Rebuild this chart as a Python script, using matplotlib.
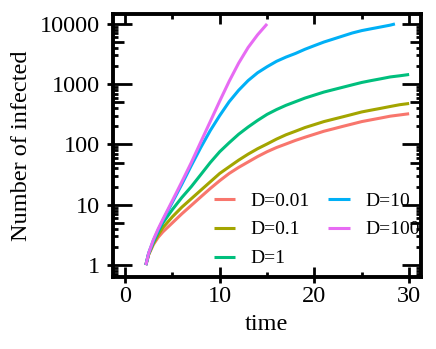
import matplotlib
matplotlib.use('Agg')
import matplotlib.pyplot as plt
from matplotlib.ticker import FixedLocator, NullLocator, NullFormatter, FixedFormatter

# ---- data ----
t_d001 = [2.2, 2.5, 3, 3.5, 4, 5, 6, 7, 8, 9, 10, 11, 12, 13, 14, 15, 16, 17, 18, 19, 20,
          21, 22, 23, 24, 25, 26, 27, 28, 29, 30]
v_d001 = [1, 1.48, 2.19, 2.88, 3.55, 5.01, 7.08, 9.77, 13.5, 18.6, 25.1, 33.1, 41.7, 51.3,
          63.1, 75.9, 89.1, 102, 117, 132, 148, 166, 182, 200, 219, 240, 257, 275, 295, 309, 324]

t_d01 = [2.2, 2.5, 3, 3.5, 4, 5, 6, 7, 8, 9, 10, 11, 12, 13, 14, 15, 16, 17, 18, 19, 20,
         21, 22, 23, 24, 25, 26, 27, 28, 29, 30]
v_d01 = [1, 1.51, 2.29, 3.16, 4.17, 6.31, 9.12, 12.6, 17.4, 24.0, 33.1, 42.7, 55.0, 69.2,
         85.1, 102, 123, 145, 166, 191, 214, 240, 263, 288, 316, 347, 372, 398, 427, 457, 479]

t_d1 = [2.2, 2.5, 3, 3.5, 4, 5, 6, 7, 8, 9, 10, 11, 12, 13, 14, 15, 16, 17, 18, 19, 20,
        21, 22, 23, 24, 25, 26, 27, 28, 29, 30]
v_d1 = [1, 1.55, 2.40, 3.55, 5.01, 8.32, 13.2, 20.0, 31.6, 50.1, 75.9, 107, 148, 195, 251,
        316, 380, 447, 513, 589, 661, 741, 813, 891, 977, 1070, 1150, 1230, 1320, 1380, 1450]

t_d10 = [2.2, 2.5, 3, 3.5, 4, 5, 6, 7, 8, 9, 10, 11, 12, 13, 14, 15, 16, 17, 18, 19, 20,
         21, 22, 23, 24, 25, 26, 27, 28, 28.5]
v_d10 = [1, 1.58, 2.57, 3.80, 5.50, 11.0, 21.9, 44.7, 89.1, 170, 302, 513, 794, 1150, 1550,
         1950, 2400, 2820, 3240, 3800, 4370, 5010, 5620, 6310, 7080, 7760, 8320, 8910, 9550, 10000]

t_d100 = [2.2, 2.5, 3, 3.5, 4, 5, 6, 7, 8, 9, 10, 11, 12, 13, 14, 15]
v_d100 = [1, 1.58, 2.63, 3.98, 5.75, 11.7, 24.0, 50.1, 110, 240, 525, 1120, 2240, 4070,
          6610, 10000]

series_labels = ['D=0.01', 'D=0.1', 'D=1', 'D=10', 'D=100']
series_colors = ['#F8766D', '#A3A500', '#00BF7D', '#00B0F6', '#E76BF3']

x_ticks = [0, 10, 20, 30]
x_minor = [5, 15, 25]
y_ticks = [1, 10, 100, 1000, 10000]
y_tick_labels = ['1', '10', '100', '1000', '10000']

plt.rcParams['font.family'] = ['Liberation Serif', 'DejaVu Serif']

W, H = 436, 349
fig = plt.figure(figsize=(W / 100, H / 100), dpi=100)
L, R, T, B = 112.5, 420.5, 14.3, 276.5
ax = fig.add_axes([L / W, 1 - B / H, (R - L) / W, (B - T) / H])

ts = [t_d001, t_d01, t_d1, t_d10, t_d100]
vs = [v_d001, v_d01, v_d1, v_d10, v_d100]
for t, v, lab, col in zip(ts, vs, series_labels, series_colors):
    ax.plot(t, v, color=col, lw=2.2, label=lab, solid_capstyle='butt',
            solid_joinstyle='round')

ax.set_yscale('log')
ax.set_xlim(-1.32, 31.2)
ax.set_ylim(10 ** -0.19, 10 ** 4.16)

for s in ax.spines.values():
    s.set_linewidth(2.8)
    s.set_color('black')

tw = 2.0
ax.xaxis.set_major_locator(FixedLocator(x_ticks))
ax.xaxis.set_minor_locator(FixedLocator(x_minor))
ax.xaxis.set_minor_formatter(NullFormatter())
ax.tick_params(axis='x', which='major', direction='in', length=7.5, width=tw,
               top=True, bottom=True, labelsize=17.5, pad=7)
ax.tick_params(axis='x', which='minor', direction='in', length=3.6, width=tw,
               top=True, bottom=True)

minors = []
for k in range(-1, 5):
    for m in [2, 3, 4, 6, 7, 8, 9]:
        minors.append(m * 10 ** k)
ax.yaxis.set_major_locator(FixedLocator(y_ticks))
ax.yaxis.set_major_formatter(FixedFormatter(y_tick_labels))
ax.yaxis.set_minor_locator(FixedLocator(minors))
ax.yaxis.set_minor_formatter(NullFormatter())
ax.tick_params(axis='y', which='major', direction='in', length=13.5, width=tw,
               left=True, right=True, labelsize=17.5, pad=9)
ax.tick_params(axis='y', which='minor', direction='in', length=3.6, width=tw,
               left=True, right=True)

mids = [5 * 10 ** k for k in range(-1, 4)]
for side in ['left', 'right']:
    sec = ax.secondary_yaxis(side)
    sec.yaxis.set_major_locator(FixedLocator(mids))
    sec.yaxis.set_minor_locator(NullLocator())
    sec.yaxis.set_major_formatter(NullFormatter())
    sec.tick_params(axis='y', which='major', direction='in', length=7.8, width=tw)
    for s in sec.spines.values():
        s.set_visible(False)

secl = ax.secondary_yaxis('left')
secl.yaxis.set_major_locator(FixedLocator(y_ticks))
secl.yaxis.set_minor_locator(NullLocator())
secl.yaxis.set_major_formatter(NullFormatter())
secl.tick_params(axis='y', which='major', direction='out', length=4.3, width=tw)
for s in secl.spines.values():
    s.set_visible(False)

secb = ax.secondary_xaxis('bottom')
secb.xaxis.set_major_locator(FixedLocator(x_ticks))
secb.xaxis.set_minor_locator(NullLocator())
secb.xaxis.set_major_formatter(NullFormatter())
secb.tick_params(axis='x', which='major', direction='out', length=4.3, width=tw)
for s in secb.spines.values():
    s.set_visible(False)

ax.set_xlabel('time', fontsize=17.5, labelpad=5)
ax.set_ylabel('Number of infected', fontsize=17.5, labelpad=6)

leg = ax.legend(ncol=2, loc='upper left', bbox_to_anchor=(213.5 / W, 1 - 192 / H),
                bbox_transform=fig.transFigure, frameon=False, fontsize=14,
                handlelength=1.12, handletextpad=0.78, columnspacing=0.95,
                labelspacing=0.58, borderpad=0, borderaxespad=0)
for line in leg.get_lines():
    line.set_linewidth(2.2)

fig.savefig('out.png', dpi=100)
